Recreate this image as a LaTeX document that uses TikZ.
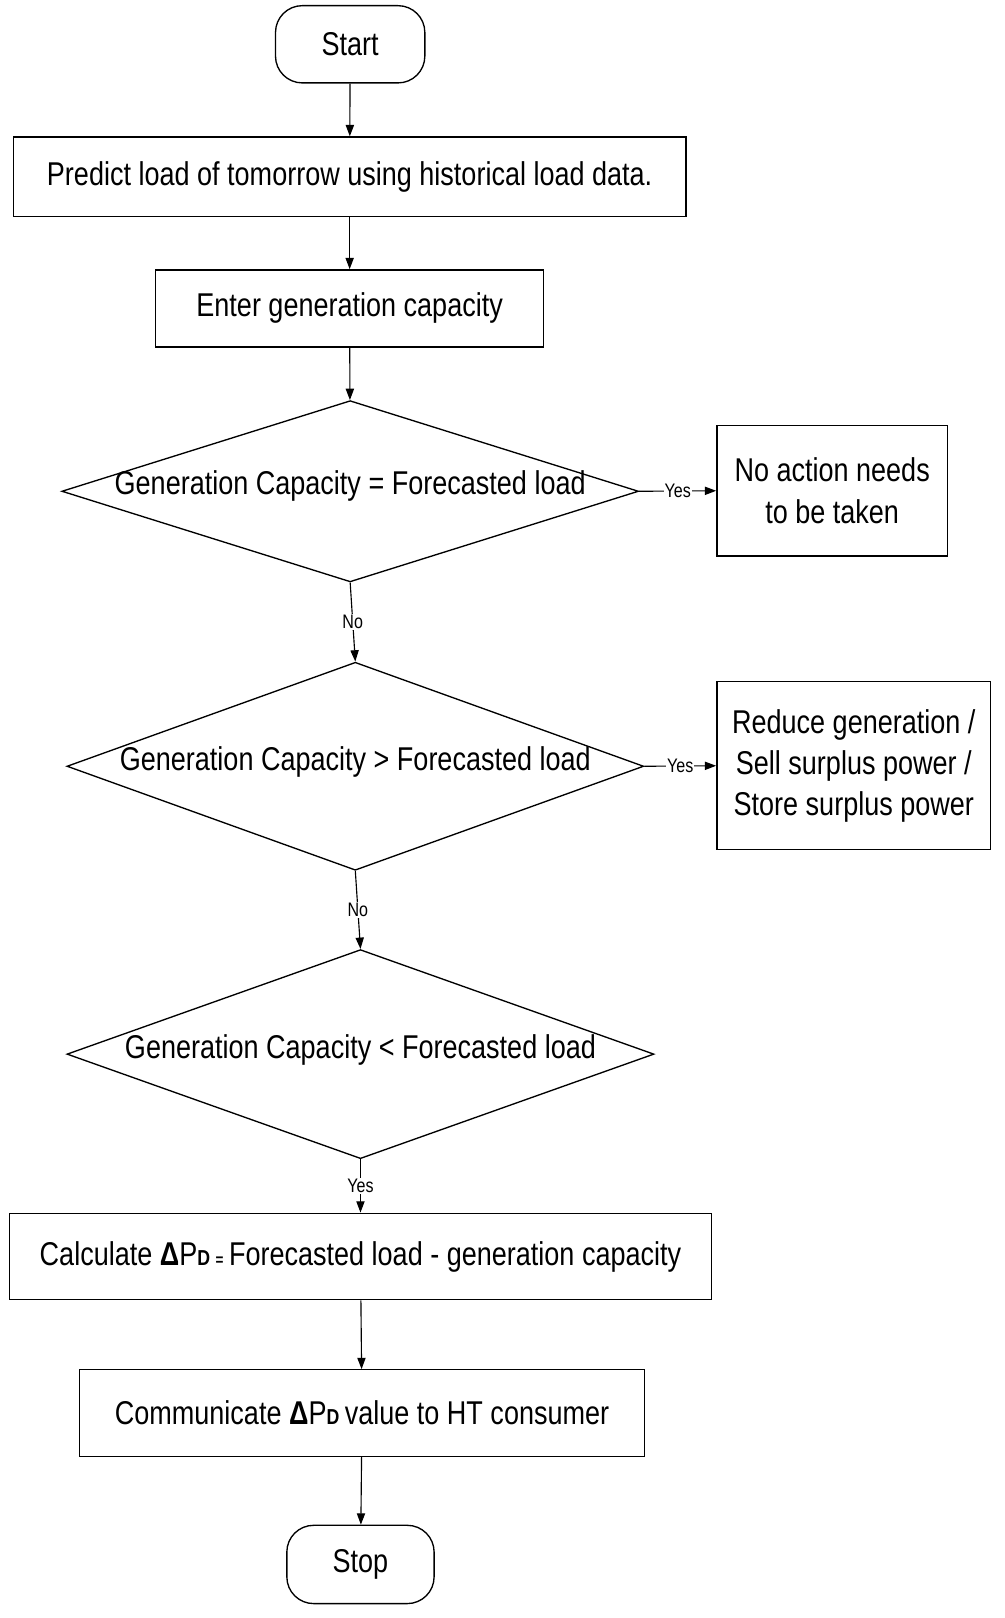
\documentclass[tikz,border=0pt]{standalone}
\usepackage{fontspec}
\setmainfont{Liberation Sans}[FakeStretch=0.82]
\usetikzlibrary{shapes.geometric,arrows.meta}
\newcommand{\subD}{{\fontsize{21}{21}\selectfont\textbf{D}}}
\begin{document}
\begin{tikzpicture}[x=1pt,y=-1pt,
  box/.style={draw,line width=1.3pt,inner sep=0pt,font=\fontsize{32}{40}\selectfont,align=center},
  dia/.style={draw,line width=1.3pt,diamond,inner sep=0pt},
  term/.style={draw,line width=1.3pt,rounded corners=26pt,inner sep=0pt,font=\fontsize{32}{38}\selectfont},
  lab/.style={fill=white,inner sep=1pt,font=\fontsize{19}{21}\selectfont},
  dtxt/.style={font=\fontsize{32}{38}\selectfont,inner sep=0pt},
  arr/.style={-{Triangle[length=11pt,width=8pt]},line width=1.1pt}]
\useasboundingbox (0,0) rectangle (975,1571);
\node[term,minimum width=145pt,minimum height=75pt] (start) at (340,43) {Start};
\node[box,minimum width=653pt,minimum height=77pt] (pred) at (339.5,171.5) {Predict load of tomorrow using historical load data.};
\node[box,minimum width=377pt,minimum height=75pt] (enter) at (339.5,299.5) {Enter generation capacity};
\node[dia,minimum width=560pt,minimum height=176pt] (d1) at (340,477) {};
\node[dtxt] at (340,472) {Generation Capacity = Forecasted load};
\node[box,minimum width=224pt,minimum height=127pt] (na) at (808,476.5) {No action needs\\to be taken};
\node[dia,minimum width=560pt,minimum height=202pt] (d2) at (345,744) {};
\node[dtxt] at (345,740) {Generation Capacity > Forecasted load};
\node[box,minimum width=266pt,minimum height=163pt] (red) at (829,743.5) {Reduce generation /\\Sell surplus power /\\Store surplus power};
\node[dia,minimum width=570pt,minimum height=203pt] (d3) at (350,1023.5) {};
\node[dtxt] at (350,1019) {Generation Capacity < Forecasted load};
\node[box,minimum width=682pt,minimum height=84pt] (calc) at (350,1220) {Calculate \textbf{Δ}P\subD\,{\fontsize{16}{16}\selectfont\textbf{=}}\,Forecasted load - generation capacity};
\node[box,minimum width=549pt,minimum height=84pt] (comm) at (351.5,1372) {Communicate \textbf{Δ}P\subD\,value to HT consumer};
\node[term,minimum width=143pt,minimum height=76pt] (stop) at (350,1519) {Stop};
\draw[arr] (start) -- (pred);
\draw[arr] (pred) -- (enter);
\draw[arr] (enter) -- (d1);
\draw[arr] (d1.east) -- node[lab]{Yes} (na.west);
\draw[arr] (d1.south) -- node[lab]{No} (d2.north);
\draw[arr] (d2.east) -- node[lab]{Yes} (red.west);
\draw[arr] (d2.south) -- node[lab]{No} (d3.north);
\draw[arr] (d3.south) -- node[lab]{Yes} (calc.north);
\draw[arr] (calc) -- (comm);
\draw[arr] (comm) -- (stop);
\end{tikzpicture}
\end{document}
